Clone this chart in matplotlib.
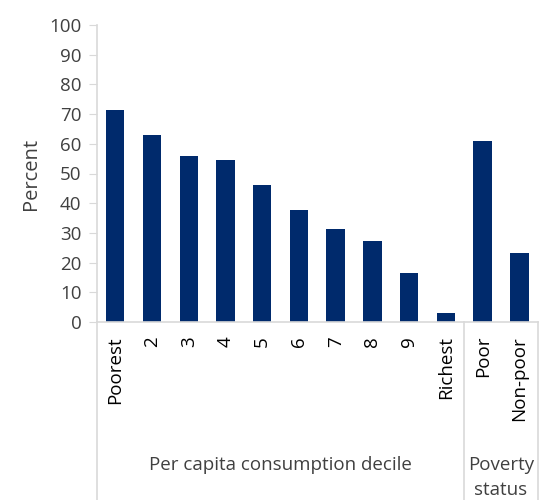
import matplotlib.pyplot as plt
from matplotlib.lines import Line2D

# data
categories = ["Poorest", "2", "3", "4", "5", "6", "7", "8", "9", "Richest", "Poor", "Non-poor"]
values = [71.4, 63.0, 56.0, 54.6, 46.1, 37.7, 31.2, 27.4, 16.4, 2.9, 60.8, 23.2]
groups = ["Per capita consumption decile", "Poverty\nstatus"]
group_sizes = [10, 2]

plt.rcParams['font.family'] = ['Open Sans', 'DejaVu Sans']

fig = plt.figure(figsize=(5.41, 5.00), dpi=100)
ax = fig.add_axes([0.179, 0.356, 0.815, 0.594])

x = list(range(len(categories)))
ax.bar(x, values, width=0.5, color='#002A6C', zorder=2)

ax.set_xlim(-0.5, len(categories) - 0.5)
ax.set_ylim(0, 100)
ax.set_yticks(range(0, 101, 10))
ax.tick_params(axis='y', labelsize=13.5, labelcolor='#404040', color='#d9d9d9', length=6, pad=5)
ax.set_xticks(x)
ax.set_xticklabels(categories, rotation=90, fontsize=13.5, color='black')
ax.tick_params(axis='x', length=0, pad=10)
ax.set_ylabel("Percent", fontsize=14.5, color='#404040', labelpad=6)

for side in ['top', 'right']:
    ax.spines[side].set_visible(False)
ax.spines['left'].set_color('#d9d9d9')
ax.spines['bottom'].set_color('#d9d9d9')
ax.spines['left'].set_linewidth(1.2)
ax.spines['bottom'].set_linewidth(1.2)

# group separators and labels below the axis
trans = ax.get_xaxis_transform()
edges = [-0.5]
for n in group_sizes:
    edges.append(edges[-1] + n)
for e in edges:
    ax.add_line(Line2D([e, e], [0, -0.6], transform=trans, color='#d9d9d9',
                       lw=1.2, clip_on=False))
for i, g in enumerate(groups):
    mid = (edges[i] + edges[i + 1]) / 2
    ax.text(mid, -0.45, g, transform=trans, ha='center', va='top',
            fontsize=13.5, color='#404040', linespacing=1.55)

fig.savefig("out.png", dpi=100)
